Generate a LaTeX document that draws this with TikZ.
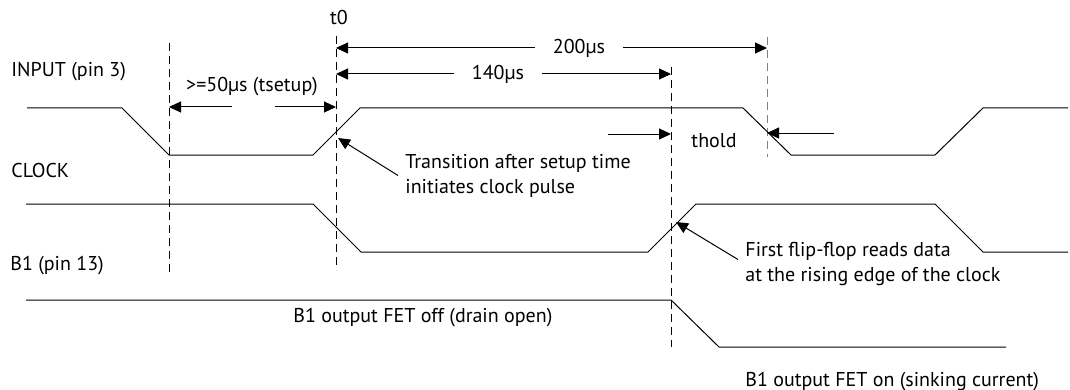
\documentclass[tikz,border=0pt]{standalone}
\usepackage{fontspec}
\setmainfont{PT Sans}
\usetikzlibrary{arrows.meta}
\tikzset{
wave/.style={draw, line width=0.5pt},
guide/.style={draw, line width=0.5pt, dash pattern=on 4pt off 2.5pt},
dimarrow/.style={draw, line width=0.5pt, -{Triangle[length=6pt,width=5.5pt]}},
lbl/.style={inner sep=0pt, font=\fontsize{10}{12.5}\selectfont},
gapped/.style={lbl, inner xsep=9pt}
}

\begin{document}
\begin{tikzpicture}[x=0.5pt, y=-0.5pt]
\useasboundingbox (0,0) rectangle (1070,390);

% time marks
\coordinate (setx) at (169,0);
\coordinate (t0x) at (336,0);
\coordinate (readx) at (671,0);
\coordinate (holdx) at (767,0);
\coordinate (edgeA) at (338,138);
\coordinate (edgeB) at (676,222);

\draw[guide] (169,43) -- (169,275);
\draw[guide] (336,36) -- (336,270);
\draw[guide] (671,67) -- (671,347);
\draw[guide, gray] (767,37) -- (767,157);

% signal names
\node[lbl, anchor=west] (input) at (11,72) {INPUT (pin 3)};
\node[lbl, anchor=west] (clock) at (11,170) {CLOCK};
\node[lbl, anchor=west] (bone) at (10,266) {B1 (pin 13)};

% waveforms
\draw[wave] (27,108) -- (122,108) -- (169,155) -- (313,155) -- (360,108) -- (743,108)
  -- (791,155) -- (935,155) -- (983,108) -- (1068,108);
\draw[wave] (26,204) -- (313,204) -- (361,252) -- (648,252) -- (696,204) -- (935,204)
  -- (983,252) -- (1068,252);
\draw[wave] (26,300) -- (671,300) -- (719,347) -- (1006,347);

% timing
\node[lbl] (tzero) at (339,18) {t0};
\node[gapped] (d200) at (579,48) {200µs};
\draw[dimarrow] (d200) -- (d200 -| t0x);
\draw[dimarrow] (d200) -- (d200 -| holdx);
\node[gapped] (d140) at (498,74) {140µs};
\draw[dimarrow] (d140) -- (d140 -| t0x);
\draw[dimarrow] (d140) -- (d140 -| readx);

\node[lbl] (dsetup) at (252,87) {>=50µs (tsetup)};
\coordinate (sl) at (232,107);
\coordinate (sr) at (275,107);
\draw[dimarrow] (sl) -- (sl -| setx);
\draw[dimarrow] (sr) -- (sr -| t0x);

\node[lbl] (dhold) at (714,141) {thold};
\coordinate (hl) at (608,134);
\coordinate (hr) at (834,133);
\draw[dimarrow] (hl) -- (hl -| readx);
\draw[dimarrow] (hr) -- (hr -| holdx);

% notes
\node[lbl, anchor=west, align=left] (ntrans) at (405,175.5)
  {Transition after setup time\\initiates clock pulse};
\draw[dimarrow] ([xshift=-3.5pt]ntrans.west) -- (edgeA);
\node[lbl, anchor=west, align=left] (nflip) at (745,263.5)
  {First flip-flop reads data\\at the rising edge of the clock};
\draw[dimarrow] ([xshift=-3.5pt,yshift=2pt]nflip.west) -- (edgeB);

\node[lbl, anchor=west] (offlbl) at (293,318) {B1 output FET off (drain open)};
\node[lbl, anchor=west] (onlbl) at (745,382) {B1 output FET on (sinking current)};

\end{tikzpicture}
\end{document}
